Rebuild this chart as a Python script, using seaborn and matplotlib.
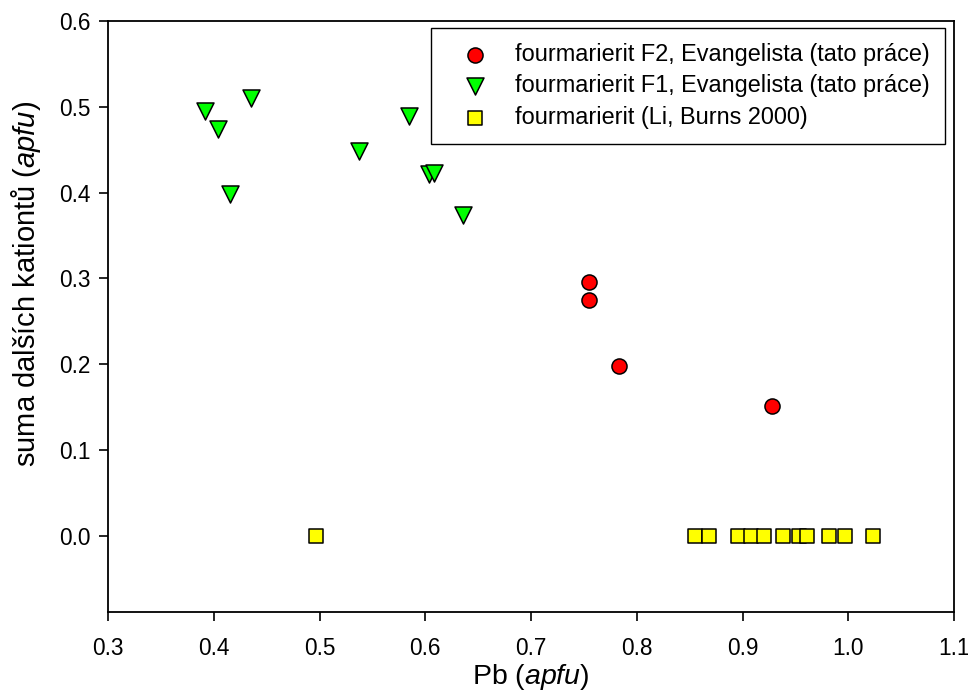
import matplotlib
matplotlib.use("Agg")
import matplotlib.pyplot as plt
import seaborn as sns
import pandas as pd

# Data
f2_pb = [0.755, 0.755, 0.783, 0.928]
f2_sum = [0.296, 0.275, 0.198, 0.152]

f1_pb = [0.392, 0.404, 0.415, 0.435, 0.537, 0.585, 0.604, 0.608, 0.636]
f1_sum = [0.495, 0.474, 0.398, 0.510, 0.448, 0.489, 0.422, 0.423, 0.374]

li_pb = [0.497, 0.855, 0.868, 0.896, 0.908, 0.920, 0.938, 0.953, 0.961, 0.982, 0.997, 1.023]
li_sum = [0.0] * len(li_pb)

labels = ["fourmarierit F2, Evangelista (tato práce)",
          "fourmarierit F1, Evangelista (tato práce)",
          "fourmarierit (Li, Burns 2000)"]

x_ticks = [0.3, 0.4, 0.5, 0.6, 0.7, 0.8, 0.9, 1.0, 1.1]
y_ticks = [0.0, 0.1, 0.2, 0.3, 0.4, 0.5, 0.6]

sns.set_theme(style="ticks")
plt.rcParams['font.family'] = ['Liberation Sans', 'DejaVu Sans']
plt.rcParams['mathtext.fontset'] = 'custom'
plt.rcParams['mathtext.rm'] = 'Liberation Sans'
plt.rcParams['mathtext.it'] = 'Liberation Sans:italic'
for k in ['text.color', 'axes.labelcolor', 'xtick.color', 'ytick.color', 'axes.edgecolor']:
    plt.rcParams[k] = 'black'

fig = plt.figure(figsize=(9.68, 6.93), dpi=100)
ax = fig.add_axes([108/968, 1-612/693, (954-108)/968, (612-21)/693])

df2 = pd.DataFrame({"x": f2_pb, "y": f2_sum})
df1 = pd.DataFrame({"x": f1_pb, "y": f1_sum})
dfl = pd.DataFrame({"x": li_pb, "y": li_sum})

sns.scatterplot(data=df2, x="x", y="y", ax=ax, marker="o", s=118, color="#ff0000",
                edgecolor="black", linewidth=1.1, label=labels[0], zorder=3)
sns.scatterplot(data=df1, x="x", y="y", ax=ax, marker="v", s=150, color="#00ff00",
                edgecolor="black", linewidth=1.1, label=labels[1], zorder=3)
sns.scatterplot(data=dfl, x="x", y="y", ax=ax, marker="s", s=95, color="#ffff00",
                edgecolor="black", linewidth=1.1, label=labels[2], zorder=3)

ax.set_xlim(0.3, 1.1)
ax.set_ylim(-0.0886, 0.6)
ax.set_xticks(x_ticks)
ax.set_xticklabels([f"{v:.1f}" for v in x_ticks])
ax.set_yticks(y_ticks)
ax.set_yticklabels([f"{v:.1f}" for v in y_ticks])
ax.tick_params(axis="both", direction="out", length=6.5, width=1.2, labelsize=16.3,
               colors="black", top=False, right=False)
ax.tick_params(axis="x", pad=11.5)
ax.tick_params(axis="y", pad=6)
for sp in ax.spines.values():
    sp.set_visible(True)
    sp.set_linewidth(1.3)
    sp.set_color("black")

ax.set_xlabel("Pb ($\\it{apfu}$)", fontsize=20.5, labelpad=1.5)
ax.set_ylabel("suma dalších kationtů ($\\it{apfu}$)", fontsize=21)
ax.yaxis.set_label_coords(-0.077, 0.555)

leg = ax.legend(loc="upper right", bbox_to_anchor=(0.9894, 0.9887), fontsize=16.9,
                frameon=True, fancybox=False, edgecolor="black", framealpha=1,
                borderpad=0.65, handlelength=2.44, handletextpad=0.47, labelspacing=0.36,
                markerscale=1.0, borderaxespad=0)
leg.get_frame().set_linewidth(1.0)

fig.savefig("out.png", dpi=100)
